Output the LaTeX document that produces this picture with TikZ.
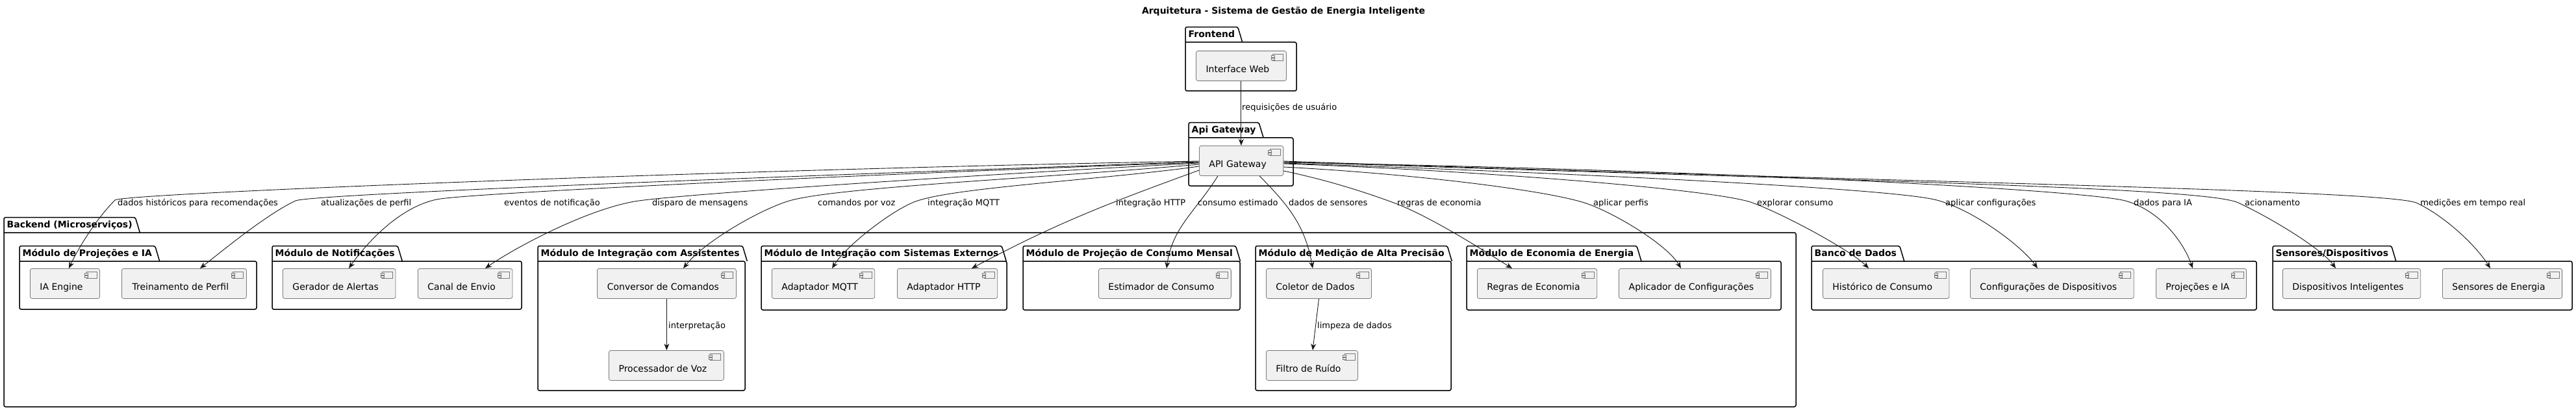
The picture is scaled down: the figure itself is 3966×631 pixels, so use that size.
\documentclass[tikz,border=0pt]{standalone}
\usepackage{fontspec}
\setmainfont{DejaVu Sans}
\usetikzlibrary{arrows.meta,calc}
\definecolor{compfill}{HTML}{F1F1F1}
\definecolor{ink}{HTML}{181818}
\definecolor{compline}{HTML}{7A7A7A}
\tikzset{
  comp/.style={draw=compline, line width=0.8pt, fill=compfill, rounded corners=3pt,
    anchor=north west, minimum height=46pt, inner xsep=15pt, inner ysep=0pt,
    text height=25pt, text depth=4pt, font=\fontsize{14pt}{16pt}\selectfont,
    execute at end node={\hspace*{11pt}}},
  pkgline/.style={draw=black, line width=1.5pt, rounded corners=2.5pt},
  pkgtab/.style={anchor=south west, inner xsep=4.5pt, inner ysep=0pt, minimum height=23pt,
    text height=12pt, text depth=3pt, font=\bfseries\fontsize{14pt}{16pt}\selectfont},
  conn/.style={draw=ink, line width=0.9pt, -{Stealth[length=10pt,width=8pt,inset=3pt]}},
  elabel/.style={anchor=base west, inner sep=0pt, font=\fontsize{13pt}{15pt}\selectfont},
  icon/.style={draw=compline, line width=0.7pt, fill=compfill},
}
\newcommand{\pkgbox}[6]{%
  \node[pkgtab] (#1) at (#2,-#3) {#6};
  \draw[pkgline] (#2,-#3) -- (#4,-#3) -- (#4,-#5) -- (#2,-#5) -- (#1.north west)
     -- (#1.north east) -- ($(#1.south east)+(7,0)$);
}
\begin{document}
\begin{tikzpicture}[x=1pt,y=1pt]
\useasboundingbox (0,0) rectangle (3966,-631);
\node[font=\bfseries\fontsize{14pt}{16pt}\selectfont] (title) at (1976,-18)
  {Arquitetura - Sistema de Gestão de Energia Inteligente};

% packages
\pkgbox{pfront}{1825}{65}{1996}{140}{Frontend}
\pkgbox{papi}{1830}{212}{1991}{286}{Api Gateway}
\pkgbox{pback}{6}{358}{2765}{626}{Backend (Microserviços)}
\pkgbox{pproj}{30}{402}{395}{476}{Módulo de Projeções e IA}
\pkgbox{pnot}{419}{402}{803}{476}{Módulo de Notificações}
\pkgbox{pass}{828}{402}{1147}{601}{Módulo de Integração com Assistentes}
\pkgbox{pext}{1172}{402}{1550}{477}{Módulo de Integração com Sistemas Externos}
\pkgbox{ppcm}{1575}{402}{1909}{477}{Módulo de Projeção de Consumo Mensal}
\pkgbox{pmed}{1933}{402}{2234}{601}{Módulo de Medição de Alta Precisão}
\pkgbox{peco}{2258}{402}{2742}{477}{Módulo de Economia de Energia}
\pkgbox{pdb}{2789}{402}{3474}{477}{Banco de Dados}
\pkgbox{psens}{3499}{402}{3960}{477}{Sensores/Dispositivos}

% components
\node[comp, minimum width=139pt] (web) at (1841,-78) {Interface Web};
\node[comp, minimum width=128pt] (api) at (1846,-224) {API Gateway};
\node[comp, minimum width=106pt] (ia) at (46,-413) {IA Engine};
\node[comp, minimum width=192pt] (trein) at (187,-413) {Treinamento de Perfil};
\node[comp, minimum width=173pt] (gera) at (435,-413) {Gerador de Alertas};
\node[comp, minimum width=144pt] (canal) at (643,-413) {Canal de Envio};
\node[comp, minimum width=214pt] (conv) at (919,-413) {Conversor de Comandos};
\node[comp, minimum width=177pt] (proc) at (937,-539) {Processador de Voz};
\node[comp, minimum width=157pt] (mqtt) at (1188,-413) {Adaptador MQTT};
\node[comp, minimum width=154pt] (http) at (1381,-413) {Adaptador HTTP};
\node[comp, minimum width=202pt] (est) at (1691,-413) {Estimador de Consumo};
\node[comp, minimum width=161pt] (col) at (1949,-413) {Coletor de Dados};
\node[comp, minimum width=141pt] (filt) at (1949,-539) {Filtro de Ruído};
\node[comp, minimum width=183pt] (reg) at (2274,-413) {Regras de Economia};
\node[comp, minimum width=234pt] (apl) at (2492,-413) {Aplicador de Configurações};
\node[comp, minimum width=193pt] (hist) at (2806,-413) {Histórico de Consumo};
\node[comp, minimum width=251pt] (cfg) at (3033,-413) {Configurações de Dispositivos};
\node[comp, minimum width=139pt] (pia) at (3319,-413) {Projeções e IA};
\node[comp, minimum width=211pt] (disp) at (3514,-413) {Dispositivos Inteligentes};
\node[comp, minimum width=183pt] (sen) at (3760,-413) {Sensores de Energia};

\foreach \n in {web,api,ia,trein,gera,canal,conv,proc,mqtt,http,est,col,filt,reg,apl,hist,cfg,pia,disp,sen}{
  \draw[icon] ($(\n.north east)+(-21,-5)$) rectangle ++(16,-10);
  \draw[icon] ($(\n.north east)+(-23.5,-7.5)$) rectangle ++(5,-2.5);
  \draw[icon] ($(\n.north east)+(-23.5,-11.5)$) rectangle ++(5,-2.5);
}

% waypoints
\coordinate (w1) at (177,-308);
\coordinate (w2) at (455,-309);
\coordinate (w3) at (672,-307);
\coordinate (w4) at (977,-310);
\coordinate (w5) at (1212,-310);
\coordinate (w6) at (1407,-311);
\coordinate (w10) at (2143,-311);
\coordinate (w11) at (2445,-314);
\coordinate (w12) at (2698,-312);
\coordinate (w13) at (2982,-308);
\coordinate (w14) at (3272,-309);
\coordinate (w15) at (3446,-312);
\coordinate (w16) at (3720,-312);

% connectors
\draw[conn] (web.south) -- (web.south |- api.north);
\draw[conn] (conv.south) -- (conv.south |- proc.north);
\draw[conn] (col.south) -- ($(filt.north west)+(72,0)$);

\draw[conn] ($(api.north west)+(0,-24)$) .. controls +(181:700) and +(45:15) .. (w1)
  .. controls +(225:40) and +(65:35) .. ($(ia.north west)+(60,0)$);
\draw[conn] ($(api.north west)+(0,-25)$) .. controls +(182:600) and +(25:25) .. (w2)
  .. controls +(205:50) and +(38:40) .. ($(trein.north west)+(121,0)$);
\draw[conn] ($(api.north west)+(0,-26)$) .. controls +(182:450) and +(12:50) .. (w3)
  .. controls +(192:60) and +(55:45) .. ($(gera.north west)+(102,0)$);
\draw[conn] ($(api.north west)+(0,-27)$) .. controls +(183:350) and +(10:60) .. (w4)
  .. controls +(190:80) and +(35:50) .. ($(canal.north west)+(104,0)$);
\draw[conn] ($(api.north west)+(0,-29)$) .. controls +(185:250) and +(18:70) .. (w5)
  .. controls +(198:50) and +(52:50) .. ($(conv.north west)+(133,0)$);
\draw[conn] ($(api.north west)+(0,-32)$) .. controls +(188:150) and +(22:60) .. (w6)
  .. controls +(202:40) and +(58:40) .. ($(mqtt.north west)+(93,0)$);
\draw[conn] ($(api.north west)+(0,-38)$) .. controls +(200:149) and +(28:149) .. ($(http.north west)+(115,0)$);
\draw[conn] ($(api.south west)+(29,0)$) .. controls +(238:64) and +(82:64) .. ($(est.north west)+(105,0)$);
\draw[conn] ($(api.south west)+(93,0)$) .. controls +(-45:65) and +(100:65) .. ($(col.north west)+(72,0)$);
\draw[conn] ($(api.north east)+(0,-39)$) .. controls +(-12:60) and +(160:60) .. (w10)
  .. controls +(-20:60) and +(148:60) .. ($(reg.north west)+(54,0)$);
\draw[conn] ($(api.north east)+(0,-33)$) .. controls +(-3:200) and +(160:60) .. (w11)
  .. controls +(-20:50) and +(120:40) .. ($(apl.north west)+(96,0)$);
\draw[conn] ($(api.north east)+(0,-28)$) .. controls +(-2:300) and +(160:60) .. (w12)
  .. controls +(-20:50) and +(135:40) .. ($(hist.north west)+(71,0)$);
\draw[conn] ($(api.north east)+(0,-27)$) .. controls +(-2:450) and +(165:70) .. (w13)
  .. controls +(-15:60) and +(125:40) .. ($(cfg.north west)+(104,0)$);
\draw[conn] ($(api.north east)+(0,-26)$) .. controls +(-1:700) and +(165:60) .. (w14)
  .. controls +(-15:50) and +(110:50) .. ($(pia.north west)+(57,0)$);
\draw[conn] ($(api.north east)+(0,-25)$) .. controls +(-2:800) and +(155:60) .. (w15)
  .. controls +(-25:60) and +(125:35) .. ($(disp.north west)+(82,0)$);
\draw[conn] ($(api.north east)+(0,-24)$) .. controls +(-2:900) and +(160:60) .. (w16)
  .. controls +(-25:50) and +(122:40) .. ($(sen.north west)+(74,0)$);

% labels
\node[elabel] (lreq) at (1912,-170) {requisições de usuário};
\node[elabel] (lint) at (1029,-505) {interpretação};
\node[elabel] (llim) at (2028,-505) {limpeza de dados};
\node[elabel] (l1) at (181,-316) {dados históricos para recomendações};
\node[elabel] (l2) at (494,-316) {atualizações de perfil};
\node[elabel] (l3) at (776,-316) {eventos de notificação};
\node[elabel] (l4) at (1004,-316) {disparo de mensagens};
\node[elabel] (l5) at (1259,-316) {comandos por voz};
\node[elabel] (l6) at (1428,-316) {integração MQTT};
\node[elabel] (l7) at (1718,-316) {integração HTTP};
\node[elabel] (l8) at (1844,-316) {consumo estimado};
\node[elabel] (l9) at (1984,-316) {dados de sensores};
\node[elabel] (l10) at (2151,-316) {regras de economia};
\node[elabel] (l11) at (2453,-316) {aplicar perfis};
\node[elabel] (l12) at (2705,-316) {explorar consumo};
\node[elabel] (l13) at (2995,-316) {aplicar configurações};
\node[elabel] (l14) at (3285,-316) {dados para IA};
\node[elabel] (l15) at (3456,-316) {acionamento};
\node[elabel] (l16) at (3726,-316) {medições em tempo real};
\end{tikzpicture}
\end{document}
